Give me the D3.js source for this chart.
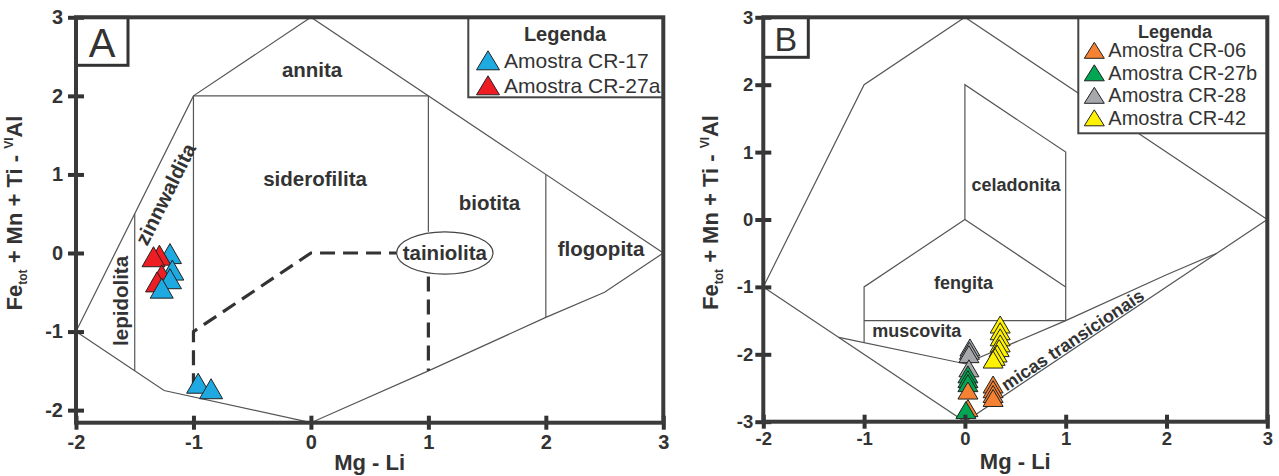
<!DOCTYPE html>
<html>
<head>
<meta charset="utf-8">
<script src="https://cdnjs.cloudflare.com/ajax/libs/d3/7.8.5/d3.min.js"></script>
<style>
  body { margin: 0; background: #fff; }
  text { font-family: "Liberation Sans", Arial, sans-serif; fill: #333; }
</style>
</head>
<body>
<div class="chart"></div>
<script>
var svgWidth = 1279;
var svgHeight = 476;

// tick values
var xTicks = [-2, -1, 0, 1, 2, 3];
var yTicksA = [-2, -1, 0, 1, 2, 3];
var yTicksB = [-3, -2, -1, 0, 1, 2, 3];

// samples, [Mg - Li, Fe + Mn + Ti - Al]
var cr17 = [[-1.20, -0.05], [-1.18, -0.26], [-1.20, -0.37], [-1.27, -0.49], [-0.96, -1.70], [-0.85, -1.77]];
var cr27a = [[-1.29, -0.07], [-1.34, -0.09], [-1.27, -0.32], [-1.31, -0.41]];
var cr06 = [[0.03, -2.58], [0.03, -2.84], [0.28, -2.49], [0.28, -2.56], [0.28, -2.63], [0.28, -2.69]];
var cr27b = [[0.03, -2.34], [0.03, -2.41], [0.03, -2.47], [0.01, -2.87]];
var cr28 = [[0.05, -1.94], [0.045, -1.99], [0.04, -2.04], [0.04, -2.25]];
var cr42 = [[0.35, -1.60], [0.35, -1.70], [0.35, -1.79], [0.35, -1.88], [0.34, -1.95], [0.32, -2.03], [0.30, -2.08], [0.28, -2.12]];

// field boundaries of the diagram
var fieldsA = [
  [[-2, -1], [-1, 2], [0, 3], [3, 0]],
  [[-2, -1], [-1.25, -1.75], [0, -2.16], [1, -1.5], [2, -0.82], [2.5, -0.5], [3, 0]],
  [[-1, 2], [1, 2]],
  [[-1.5, 0.5], [-1.5, -1.5]],
  [[-1, 2], [-1, -1]],
  [[1, 2], [1, 0.27]],
  [[2, 1], [2, -0.82]]
];
var dashedA = [
  [[-1, -1.72], [-1, -1], [0, 0], [0.73, 0]],
  [[1, -0.3], [1, -1.5]]
];
var fieldsB = [
  [[-2, -1], [-1, 2], [0, 3], [3, 0]],
  [[-2, -1], [0, -3], [3, 0]],
  [[-1.25, -1.75], [0, -2.14], [1, -1.5], [2, -0.82], [2.5, -0.5]],
  [[0, 0], [0, 2], [1, 1], [1, -1.5]],
  [[-1, -1.83], [-1, -1], [0, 0], [1, -1]],
  [[-1, -1.5], [1, -1.5]]
];

var svg = d3.select(".chart")
  .append("svg")
  .attr("width", svgWidth)
  .attr("height", svgHeight);

svg.append("rect").attr("width", svgWidth).attr("height", svgHeight).attr("fill", "#fff");

function triPath(w, h) {
  return `M0,${-2 * h / 3}L${w / 2},${h / 3}L${-w / 2},${h / 3}Z`;
}

function drawPanel(p) {
  var chartGroup = svg.append("g")
    .attr("transform", `translate(${p.left}, ${p.top})`);

  var xScale = d3.scaleLinear().domain([-2, 3]).range([0, p.width]);
  var yScale = d3.scaleLinear().domain(p.yDomain).range([p.height, 0]);

  var line = d3.line().x(d => xScale(d[0])).y(d => yScale(d[1]));

  // field lines
  chartGroup.selectAll(".field")
    .data(p.fields)
    .enter()
    .append("path")
    .attr("d", line)
    .attr("fill", "none")
    .attr("stroke", "#555")
    .attr("stroke-width", 1.2);

  if (p.dashed) {
    chartGroup.selectAll(".dashed")
      .data(p.dashed)
      .enter()
      .append("path")
      .attr("d", line)
      .attr("fill", "none")
      .attr("stroke", "#333")
      .attr("stroke-width", 3.2)
      .attr("stroke-dasharray", "15,8");
  }

  p.extra(chartGroup, xScale, yScale);

  // points, upper ones first so lower triangles sit on top
  var pts = [];
  p.series.forEach(function(s) {
    s.data.forEach(function(d) { pts.push({x: d[0], y: d[1], color: s.color}); });
  });
  pts.sort((a, b) => b.y - a.y);

  chartGroup.selectAll(".pt")
    .data(pts)
    .enter()
    .append("path")
    .attr("d", triPath(p.markW, p.markH))
    .attr("transform", d => `translate(${xScale(d.x)}, ${yScale(d.y)})`)
    .attr("fill", d => d.color)
    .attr("stroke", "#222")
    .attr("stroke-width", 1);

  // legend
  var lg = p.legend;
  chartGroup.append("rect")
    .attr("x", lg.x).attr("y", 0)
    .attr("width", p.width - lg.x).attr("height", lg.h)
    .attr("fill", "#fff")
    .attr("stroke", "#444")
    .attr("stroke-width", 2);
  chartGroup.append("text")
    .attr("x", lg.titleX).attr("y", lg.titleY)
    .attr("text-anchor", "middle")
    .attr("dominant-baseline", "central")
    .style("font-weight", "bold")
    .style("font-size", lg.titleSize + "px")
    .text("Legenda");
  p.series.forEach(function(s, i) {
    var cy = lg.firstY + i * lg.step;
    chartGroup.append("path")
      .attr("d", triPath(lg.triW, lg.triH))
      .attr("transform", `translate(${lg.triX}, ${cy + lg.triH / 6})`)
      .attr("fill", s.color)
      .attr("stroke", "#222")
      .attr("stroke-width", 1);
    chartGroup.append("text")
      .attr("x", lg.textX).attr("y", cy)
      .attr("dominant-baseline", "central")
      .style("font-size", lg.size + "px")
      .text(s.name);
  });

  // panel letter
  chartGroup.append("rect")
    .attr("x", 0).attr("y", 0)
    .attr("width", p.letterW).attr("height", p.letterH)
    .attr("fill", "#fff")
    .attr("stroke", "#333")
    .attr("stroke-width", 3);
  chartGroup.append("text")
    .attr("x", p.letterW / 2).attr("y", p.letterH / 2 + 2)
    .attr("text-anchor", "middle")
    .attr("dominant-baseline", "central")
    .style("font-size", p.letterSize + "px")
    .text(p.letter);

  // axes
  var xAxis = chartGroup.append("g")
    .attr("transform", `translate(0, ${p.height})`)
    .call(d3.axisBottom(xScale).tickValues(xTicks).tickFormat(d => String(d)));
  var yAxis = chartGroup.append("g")
    .call(d3.axisLeft(yScale).tickValues(p.yTicks).tickFormat(d => String(d)));

  [xAxis, yAxis].forEach(function(a) {
    a.select(".domain").remove();
    a.selectAll(".tick line").attr("stroke", "#333").attr("stroke-width", 4);
    a.selectAll(".tick text")
      .attr("fill", "#333")
      .style("font-family", "'Liberation Sans', Arial, sans-serif")
      .style("font-weight", "bold")
      .style("font-size", p.tickSize + "px");
  });
  xAxis.selectAll(".tick line").attr("y1", -7).attr("y2", 7);
  xAxis.selectAll(".tick text").attr("y", p.xLabelGap).attr("dy", "0.71em");
  yAxis.selectAll(".tick line").attr("x1", -8).attr("x2", 8);
  yAxis.selectAll(".tick text").attr("x", -p.yLabelGap);

  chartGroup.append("rect")
    .attr("width", p.width).attr("height", p.height)
    .attr("fill", "none")
    .attr("stroke", "#3a3a3a")
    .attr("stroke-width", 4);

  // axis titles
  chartGroup.append("text")
    .attr("x", p.width / 2).attr("y", p.height + 40)
    .attr("text-anchor", "middle")
    .attr("dominant-baseline", "central")
    .style("font-weight", "bold")
    .style("font-size", "22px")
    .text("Mg - Li");

  var yt = chartGroup.append("text")
    .attr("transform", `translate(${p.yTitleX}, ${p.height / 2 - 7}) rotate(-90)`)
    .attr("text-anchor", "middle")
    .style("font-weight", "bold")
    .style("font-size", "22px");
  yt.append("tspan").text("Fe");
  yt.append("tspan").attr("dy", 5).style("font-size", "12px").text("tot");
  yt.append("tspan").attr("dy", -5).text(" + Mn + Ti - ");
  yt.append("tspan").attr("dy", -9).style("font-size", "12px").text("VI");
  yt.append("tspan").attr("dy", 9).text("Al");
}

function label(g, x, y, txt, size, rot) {
  g.append("text")
    .attr("transform", `translate(${x}, ${y}) rotate(${rot || 0})`)
    .attr("text-anchor", "middle")
    .attr("dominant-baseline", "central")
    .style("font-weight", "bold")
    .style("font-size", size + "px")
    .text(txt);
}

// Panel A
drawPanel({
  left: 76, top: 17.3, width: 587.3, height: 405.4,
  yDomain: [-2.16, 3], yTicks: yTicksA,
  fields: fieldsA, dashed: dashedA,
  markW: 23, markH: 20,
  tickSize: 20, xLabelGap: 12, yLabelGap: 13, yTitleX: -54,
  letter: "A", letterW: 52, letterH: 48, letterSize: 40,
  series: [
    {name: "Amostra CR-17", color: "#1fa9e1", data: cr17},
    {name: "Amostra CR-27a", color: "#ee1d23", data: cr27a}
  ],
  legend: {x: 392.3, h: 80, titleX: 489, titleY: 17, titleSize: 20,
    firstY: 43, step: 25, triX: 412, triW: 23, triH: 19, textX: 428, size: 21},
  extra: function(g, x, y) {
    g.append("ellipse")
      .attr("cx", x(1.14)).attr("cy", y(0))
      .attr("rx", x(1.14 + 0.41) - x(1.14)).attr("ry", y(0) - y(0.27))
      .attr("fill", "#fff").attr("stroke", "#444").attr("stroke-width", 1.2);
    label(g, x(0.01), y(2.34), "annita", 20.5);
    label(g, x(0.035), y(0.95), "siderofilita", 20.5);
    label(g, x(1.52), y(0.64), "biotita", 20.5);
    label(g, x(2.47), y(0.06), "flogopita", 20.5);
    label(g, x(1.14), y(0), "tainiolita", 20.5);
    label(g, x(-1.625), y(-0.61), "lepidolita", 20.5, -90);
    label(g, x(-1.24), y(0.75), "zinnwaldita", 20.5, -63.5);
  }
});

// Panel B
drawPanel({
  left: 763.3, top: 17.3, width: 504, height: 404.4,
  yDomain: [-3, 3], yTicks: yTicksB,
  fields: fieldsB, dashed: null,
  markW: 20, markH: 17,
  tickSize: 18.5, xLabelGap: 10, yLabelGap: 10, yTitleX: -45,
  letter: "B", letterW: 45, letterH: 40, letterSize: 34,
  series: [
    {name: "Amostra CR-06", color: "#f58232", data: cr06},
    {name: "Amostra CR-27b", color: "#00a651", data: cr27b},
    {name: "Amostra CR-28", color: "#a6a8ab", data: cr28},
    {name: "Amostra CR-42", color: "#fff200", data: cr42}
  ],
  legend: {x: 315, h: 116, titleX: 411.7, titleY: 14.5, titleSize: 18,
    firstY: 33, step: 22.5, triX: 331, triW: 20, triH: 16, textX: 345, size: 20},
  extra: function(g, x, y) {
    label(g, x(0.507), y(0.51), "celadonita", 18);
    label(g, x(-0.014), y(-0.94), "fengita", 18);
    label(g, x(-0.478), y(-1.66), "muscovita", 18);
    label(g, x(1.07), y(-1.79), "micas transicionais", 18, -33.7);
  }
});
</script>
</body>
</html>
